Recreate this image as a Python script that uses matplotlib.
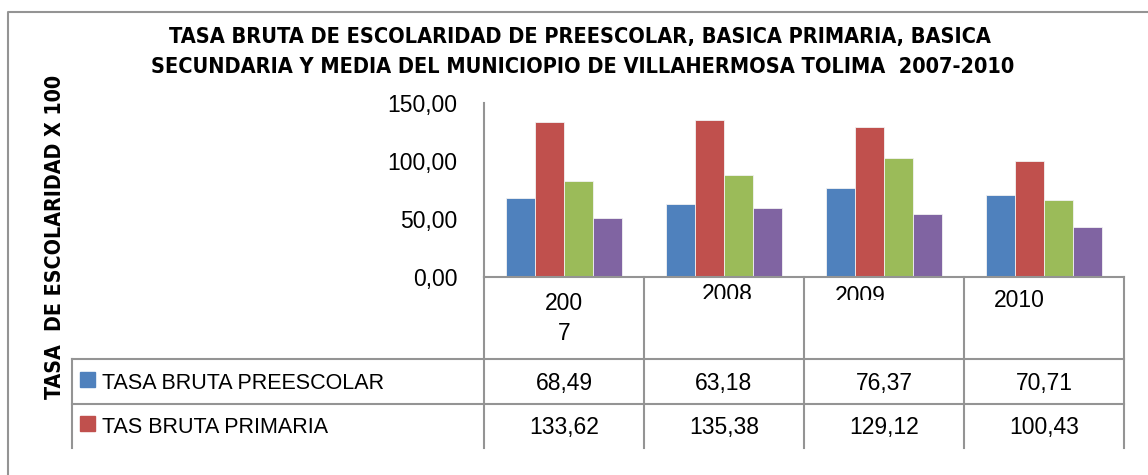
import matplotlib
matplotlib.use('Agg')
import matplotlib.pyplot as plt
import numpy as np
from matplotlib.patches import Rectangle
from matplotlib.ticker import FuncFormatter
from matplotlib.transforms import Bbox

years = ['2007', '2008', '2009', '2010']
preescolar = [68.49, 63.18, 76.37, 70.71]
primaria = [133.62, 135.38, 129.12, 100.43]
# rows for these two are cut off in the picture
secundaria = [82.8, 88.0, 102.3, 66.4]
media = [51.1, 59.2, 54.0, 43.4]

series_names = ['TASA BRUTA PREESCOLAR', 'TAS BRUTA PRIMARIA',
                'TASA BRUTA SECUNDARIA', 'TASA BRUTA MEDIA']
colors = ['#4F81BD', '#C0504D', '#9BBB59', '#8064A2']
yticks = [0, 50, 100, 150]

W, H = 1148, 475
fig = plt.figure(figsize=(W / 100, H / 100), dpi=100)
fig.patch.set_facecolor('white')

grey = '#949494'
plain = ['Liberation Sans', 'DejaVu Sans']


def fmt(v):
    return f'{v:.2f}'.replace('.', ',')


# bar axes, placed by pixel box
x0, x1, ytop, ybot = 484, 1124, 103, 277
ax = fig.add_axes([x0 / W, (H - ybot) / H, (x1 - x0) / W, (ybot - ytop) / H])
x = np.arange(len(years))
bw = 0.18
all_series = [preescolar, primaria, secundaria, media]
for k, vals in enumerate(all_series):
    ax.bar(x + (k - 1.5) * bw, vals, bw, color=colors[k],
           edgecolor='#f2f2f2', linewidth=0.6, zorder=2)
ax.set_xlim(-0.5, len(years) - 0.5)
ax.set_ylim(0, 150)
ax.set_yticks(yticks)
ax.yaxis.set_major_formatter(FuncFormatter(lambda v, p: fmt(v)))
ax.set_xticks([])
ax.tick_params(axis='y', length=0, pad=19, labelsize=16.5)
for lab in ax.get_yticklabels():
    lab.set_family(plain)
for s in ['top', 'right']:
    ax.spines[s].set_visible(False)
for s in ['left', 'bottom']:
    ax.spines[s].set_color(grey)
    ax.spines[s].set_linewidth(1.5)
ax.patch.set_alpha(0)

# overlay in pixel coords for table, border and texts
ov = fig.add_axes([0, 0, 1, 1], zorder=-1)
ov.set_xlim(0, W)
ov.set_ylim(H, 0)
ov.axis('off')

lw = 1.5
# outer chart border (cut at right and bottom)
ov.plot([8, 8, W + 5], [H + 5, 12, 12], color=grey, lw=lw)

# table grid
col_edges = [484, 644, 804, 964, 1124]
ov.plot([72, 1124], [359, 359], color=grey, lw=lw)
ov.plot([72, 1124], [404, 404], color=grey, lw=lw)
ov.plot([72, 72], [359, 448], color=grey, lw=lw)
for ce in col_edges:
    ov.plot([ce, ce], [277, 448], color=grey, lw=lw)

centers = [(col_edges[i] + col_edges[i + 1]) / 2 for i in range(4)]

# header cells (wrapped / clipped like the original)
ov.text(centers[0], 310, years[0][:3], ha='center', va='baseline',
        fontsize=16.5, family=plain)
ov.text(centers[0], 340, years[0][3:], ha='center', va='baseline',
        fontsize=16.5, family=plain)
hdr = [(1, 727, 301, 299), (2, 860, 303, 300), (3, 1019, 307, 309)]
for i, cx, base, clip_y in hdr:
    t = ov.text(cx, base, years[i], ha='center', va='baseline',
                fontsize=16.5, family=plain)
    t.set_clip_path(None)
    t.set_clip_box(Bbox([[col_edges[i], H - clip_y], [col_edges[i] + 160, H - 270]]))
    t.set_clip_on(True)

# data rows shown in the picture
row_base = [390, 434]
sq_top = [372, 416]
for r_i, vals in enumerate([preescolar, primaria]):
    ov.add_patch(Rectangle((80, sq_top[r_i]), 15, 15, color=colors[r_i]))
    ov.text(102, row_base[r_i] - 1, series_names[r_i], ha='left', va='baseline',
            fontsize=15.5, family=plain)
    for i, v in enumerate(vals):
        ov.text(centers[i], row_base[r_i], fmt(v), ha='center', va='baseline',
                fontsize=16.5, family=plain)

# titles
title_kw = dict(fontweight='bold', family='DejaVu Sans', fontstretch='condensed')
fig.text(580 / W, 1 - 37 / H, 'TASA BRUTA DE ESCOLARIDAD DE PREESCOLAR, BASICA PRIMARIA, BASICA',
         ha='center', va='center', fontsize=15.6, **title_kw)
fig.text(583 / W, 1 - 67 / H, 'SECUNDARIA Y MEDIA DEL MUNICIOPIO DE VILLAHERMOSA TOLIMA  2007-2010',
         ha='center', va='center', fontsize=15.6, **title_kw)
fig.text(55 / W, 1 - 237 / H, 'TASA  DE ESCOLARIDAD X 100', rotation=90,
         ha='center', va='center', fontsize=15.3, **title_kw)

fig.savefig('out.png', dpi=100)
